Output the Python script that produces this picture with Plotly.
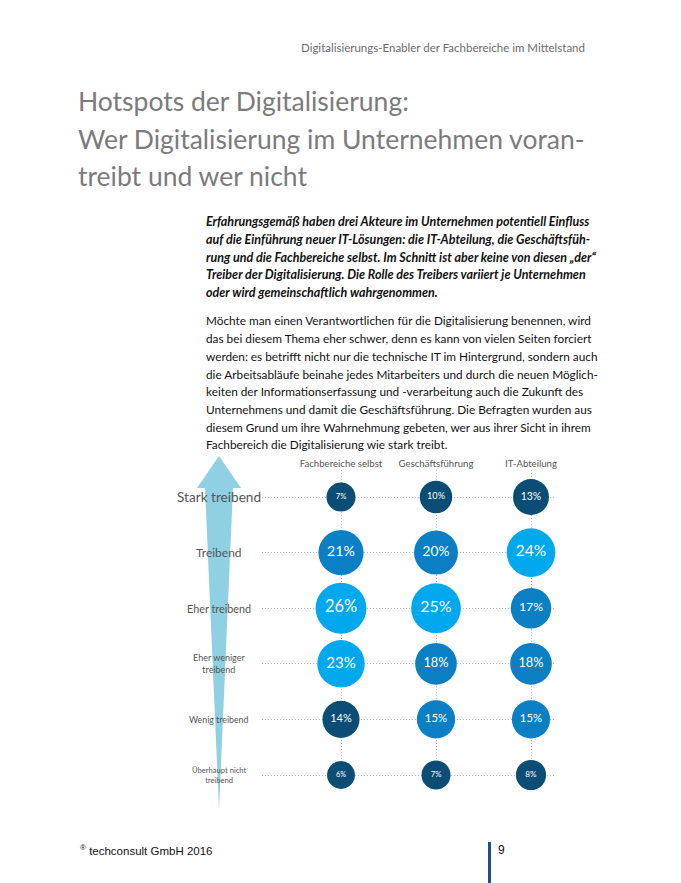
import plotly.graph_objects as go

# ---------------- data ----------------
columns = ["Fachbereiche selbst", "Geschäftsführung", "IT-Abteilung"]
rows = ["Stark treibend", "Treibend", "Eher treibend", "Eher weniger treibend",
        "Wenig treibend", "Überhaupt nicht treibend"]
row_labels = ["Stark treibend", "Treibend", "Eher treibend", "Eher weniger<br>treibend",
              "Wenig treibend", "Überhaupt nicht<br>treibend"]
fachbereiche = [7, 21, 26, 23, 14, 6]
geschaeftsfuehrung = [10, 20, 25, 18, 15, 7]
it_abteilung = [13, 24, 17, 18, 15, 8]

header_text = "Digitalisierungs-Enabler der Fachbereiche im Mittelstand"
title_lines = ["Hotspots der Digitalisierung:",
               "Wer Digitalisierung im Unternehmen voran-",
               "treibt und wer nicht"]
intro_lines = [
    "Erfahrungsgemäß haben drei Akteure im Unternehmen potentiell Einfluss",
    "auf die Einführung neuer IT-Lösungen: die IT-Abteilung, die Geschäftsfüh-",
    "rung und die Fachbereiche selbst. Im Schnitt ist aber keine von diesen „der“",
    "Treiber der Digitalisierung. Die Rolle des Treibers variiert je Unternehmen",
    "oder wird gemeinschaftlich wahrgenommen.",
]
body_lines = [
    "Möchte man einen Verantwortlichen für die Digitalisierung benennen, wird",
    "das bei diesem Thema eher schwer, denn es kann von vielen Seiten forciert",
    "werden: es betrifft nicht nur die technische IT im Hintergrund, sondern auch",
    "die Arbeitsabläufe beinahe jedes Mitarbeiters und durch die neuen Möglich-",
    "keiten der Informationserfassung und -verarbeitung auch die Zukunft des",
    "Unternehmens und damit die Geschäftsführung. Die Befragten wurden aus",
    "diesem Grund um ihre Wahrnehmung gebeten, wer aus ihrer Sicht in ihrem",
    "Fachbereich die Digitalisierung wie stark treibt.",
]
footer_text = "<sup>®</sup> techconsult GmbH 2016"
page_number = "9"

# ---------------- style ----------------
OFF = 8                      # page body margin of the html page
W, H = 681 - OFF, 883 - OFF
DARK, MID, LIGHT = "#0b4d75", "#0a7fc4", "#02a8ee"
ARROW = "#8fd0e2"
GRID = "#b3b3b3"
row_label_sizes = [13.6, 12, 10.8, 9, 8.8, 7.6]


def px(x):
    return (x - OFF) / W


def py(y):
    return 1 - (y - OFF) / H


def colour(v):
    if v >= 23:
        return LIGHT
    if v >= 15:
        return MID
    return DARK


fig = go.Figure()

series = [fachbereiche, geschaeftsfuehrung, it_abteilung]
for col, vals in zip(columns, series):
    fig.add_trace(go.Scatter(
        x=[col] * len(rows),
        y=rows,
        mode="markers+text",
        marker=dict(size=[21 + 1.15 * v for v in vals],
                    color=[colour(v) for v in vals],
                    line=dict(width=0), opacity=1),
        text=[f"{v}%" for v in vals],
        textposition="middle center",
        textfont=dict(family="Lato, sans-serif", color="white",
                      size=[4.5 + 0.46 * v for v in vals]),
        hoverinfo="skip",
        showlegend=False,
        cliponaxis=False,
    ))

# chart axes placed in page pixels
x_left, x_right = 262, 556
y_top, y_bottom = 470, 786
col_px = [341, 436, 531]
row_px0, row_step = 497, 55.6
col_step = col_px[1] - col_px[0]
x_range = [-(col_px[0] - x_left) / col_step, (x_right - col_px[0]) / col_step]
y_range = [5 + (y_bottom - (row_px0 + 5 * row_step)) / row_step,
           -(row_px0 - y_top) / row_step]

fig.update_xaxes(
    type="category", categoryorder="array", categoryarray=columns,
    range=x_range, domain=[px(x_left), px(x_right)],
    side="top", showgrid=True, gridcolor=GRID, griddash="1px,2px", gridwidth=1,
    zeroline=False, showline=False, ticks="", ticklabelstandoff=0,
    tickfont=dict(family="Lato, sans-serif", size=9.6, color="#555555"),
)
fig.update_yaxes(
    type="category", categoryorder="array", categoryarray=rows,
    range=y_range, domain=[py(y_bottom), py(y_top)],
    showgrid=True, gridcolor=GRID, griddash="1px,2px", gridwidth=1,
    zeroline=False, showline=False, showticklabels=False, ticks="",
)

shapes = []
# arrow
pts = [(219, 456), (241, 488), (233, 488), (219, 810), (205, 488), (197, 488)]
path = "M " + " L ".join(f"{px(a):.5f},{py(b):.5f}" for a, b in pts) + " Z"
shapes.append(dict(type="path", xref="paper", yref="paper", path=path,
                   fillcolor=ARROW, line=dict(width=0), layer="below"))
# page number bar
shapes.append(dict(type="rect", xref="paper", yref="paper",
                   x0=px(488), x1=px(491), y0=0, y1=py(842),
                   fillcolor="#1f4e8c", line=dict(width=0)))

ann = []
ann.append(dict(text=header_text, x=px(587), y=py(47), xref="paper", yref="paper",
                xanchor="right", yanchor="middle", showarrow=False,
                font=dict(family="Lato, sans-serif", size=11.5, color="#6b6b6b")))
for i, t in enumerate(title_lines):
    ann.append(dict(text=t, x=px(76), y=py(101 + 37.5 * i), xref="paper", yref="paper",
                    xanchor="left", yanchor="middle", showarrow=False,
                    font=dict(family="Lato, sans-serif", size=26.5, color="#7b7b7b")))
for i, t in enumerate(intro_lines):
    ann.append(dict(text=f"<b><i>{t}</i></b>", x=px(204), y=py(222 + 17.6 * i),
                    xref="paper", yref="paper", xanchor="left", yanchor="middle",
                    showarrow=False,
                    font=dict(family="Lato, sans-serif", size=12.5, color="#111111")))
for i, t in enumerate(body_lines):
    ann.append(dict(text=t, x=px(204), y=py(321 + 17.7 * i),
                    xref="paper", yref="paper", xanchor="left", yanchor="middle",
                    showarrow=False,
                    font=dict(family="Lato, sans-serif", size=11.8, color="#111111")))
for r, lab, fs in zip(rows, row_labels, row_label_sizes):
    ann.append(dict(text=lab, x=px(219), y=r, xref="paper", yref="y",
                    xanchor="center", yanchor="middle", showarrow=False,
                    font=dict(family="Lato, sans-serif", size=fs, color="#555555")))
ann.append(dict(text=footer_text, x=px(78), y=py(850), xref="paper", yref="paper",
                xanchor="left", yanchor="middle", showarrow=False,
                font=dict(family="Liberation Sans Narrow, Liberation Sans, sans-serif",
                          size=11.5, color="#111111")))
ann.append(dict(text=page_number, x=px(496), y=py(850), xref="paper", yref="paper",
                xanchor="left", yanchor="middle", showarrow=False,
                font=dict(family="Liberation Sans Narrow, Liberation Sans, sans-serif",
                          size=12, color="#111111")))

fig.update_layout(
    width=W, height=H, margin=dict(l=0, r=0, t=0, b=0),
    paper_bgcolor="white", plot_bgcolor="white",
    shapes=shapes, annotations=ann, showlegend=False,
)

fig.write_html("out.html")
